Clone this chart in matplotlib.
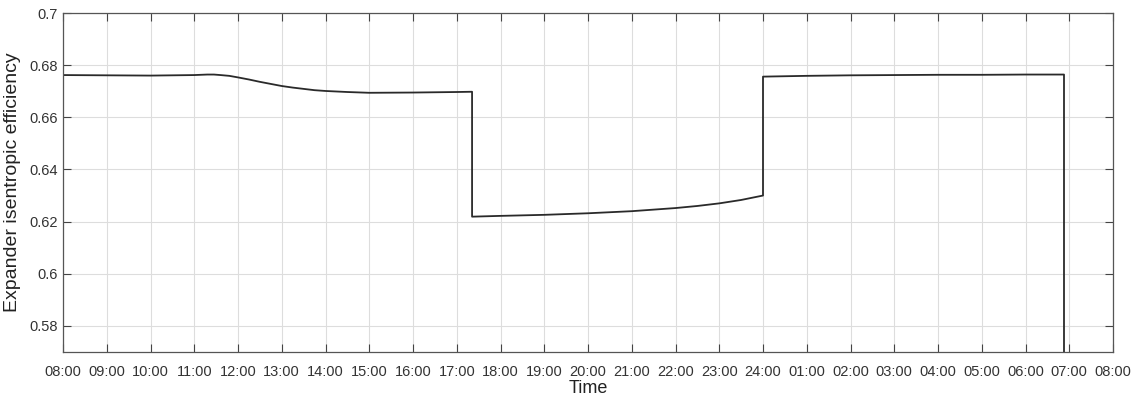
import matplotlib.pyplot as plt

plt.rcParams['font.family'] = ['Liberation Sans', 'DejaVu Sans']

# hours since 08:00
hours = [0, 1, 2, 3, 3.15, 3.3, 3.45, 3.6, 3.8, 4.0, 4.25, 4.5, 4.75, 5.0, 5.25, 5.5,
         5.75, 6.0, 6.5, 7.0, 8.0, 9.0, 9.35,
         9.35, 10.0, 11.0, 12.0, 13.0, 14.0, 14.5, 15.0, 15.5, 16.0,
         16.0, 17.0, 18.0, 19.0, 20.0, 21.0, 22.0, 22.88, 22.88]
efficiency = [0.6762, 0.6761, 0.6760, 0.6762, 0.6763, 0.6764, 0.6764, 0.6762, 0.6759,
              0.6753, 0.6745, 0.6736, 0.6728, 0.6720, 0.6714, 0.6709,
              0.6704, 0.6701, 0.6697, 0.6694, 0.6695, 0.6697, 0.6698,
              0.6219, 0.6222, 0.6226, 0.6232, 0.6240, 0.6252, 0.6260, 0.6270, 0.6283, 0.6300,
              0.6756, 0.6759, 0.6761, 0.6762, 0.6763, 0.6763, 0.6764, 0.6764, 0.55]

tick_labels = ["08:00", "09:00", "10:00", "11:00", "12:00", "13:00", "14:00", "15:00",
               "16:00", "17:00", "18:00", "19:00", "20:00", "21:00", "22:00", "23:00",
               "24:00", "01:00", "02:00", "03:00", "04:00", "05:00", "06:00", "07:00", "08:00"]
y_ticks = [0.58, 0.60, 0.62, 0.64, 0.66, 0.68, 0.70]
y_labels = ["0.58", "0.6", "0.62", "0.64", "0.66", "0.68", "0.7"]

fig = plt.figure(figsize=(11.31, 3.98), dpi=100)
ax = fig.add_axes([63 / 1131, 1 - 352 / 398, 1050 / 1131, 339 / 398])

ax.plot(hours, efficiency, color="#2a2a2a", lw=1.3)

ax.set_xlim(0, 24)
ax.set_ylim(0.57, 0.70)
ax.set_xticks(range(len(tick_labels)))
ax.set_xticklabels(tick_labels)
ax.set_yticks(y_ticks)
ax.set_yticklabels(y_labels)
ax.grid(True, color="#dddddd", lw=0.8)
ax.set_axisbelow(True)

ax.tick_params(direction="in", length=6, width=0.8, colors="#444444",
               labelsize=10.5, labelcolor="#333333", top=True, right=True)
ax.tick_params(axis="x", pad=9)
for s in ax.spines.values():
    s.set_color("#555555")
    s.set_linewidth(0.9)

ax.set_xlabel("Time", fontsize=13, color="#222222", labelpad=1)
ax.set_ylabel("Expander isentropic efficiency", fontsize=14, color="#222222", labelpad=6)

fig.savefig("out.png", dpi=100)
